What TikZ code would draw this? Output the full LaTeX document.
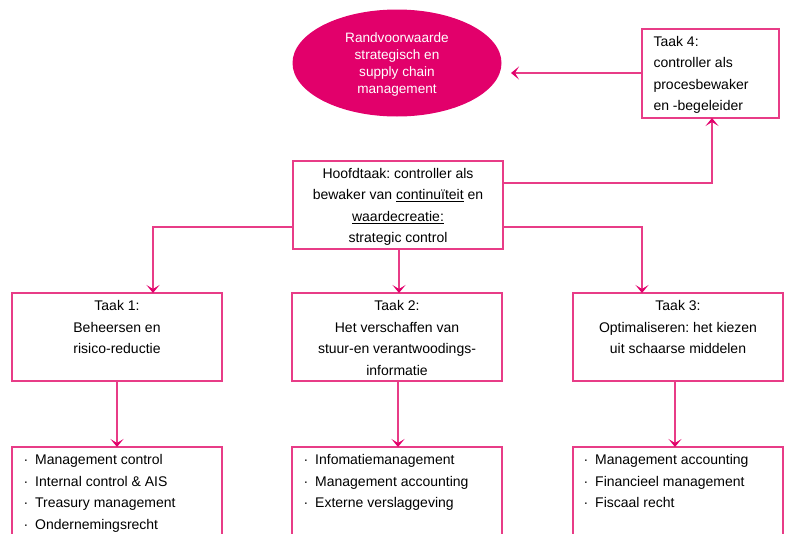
\documentclass[tikz,border=0pt]{standalone}
\usepackage{fontspec}
\setmainfont{Liberation Sans}
\usetikzlibrary{arrows.meta,shapes.geometric}
\definecolor{mag}{RGB}{226,0,107}
\definecolor{lin}{RGB}{232,60,135}
\frenchspacing
\begin{document}
\begin{tikzpicture}[x=1pt,y=-1pt,
  txt/.style={font=\fontsize{14}{21.5}\selectfont},
  box/.style={draw=lin,line width=1.2pt,fill=white},
  conn/.style={draw=lin,line width=1.2pt},
  arr/.style={conn,-{Stealth[length=8pt,width=13pt,inset=4pt,color=mag]}},
  ]
\useasboundingbox (0,0) rectangle (789,533);
% ellipse
\node[ellipse,fill=mag,minimum width=209pt,minimum height=107pt,inner sep=0pt] (ell) at (397,63) {};
\node[text=white,align=center,font=\fontsize{13.6}{17}\selectfont] (elltxt) at (397,64) {Randvoorwaarde\\strategisch en\\supply chain\\management};
% Taak 4
\draw[box] (642,29) rectangle (779,118);
\coordinate (t4l) at (642,73);
\coordinate (t4b) at (712,118);
\coordinate (ellr) at (511,73);
\node[txt,anchor=west,align=left] (t4) at (650,75) {Taak 4:\\controller als\\procesbewaker\\en -begeleider};
% Hoofdtaak
\draw[box] (293,161) rectangle (503,249);
\node[txt,align=center] (hoofd) at (398,207) {Hoofdtaak: controller als\\bewaker van \underline{continuïteit} en\\\underline{waardecreatie:}\\strategic control};
\coordinate (hr1) at (503,183);
\coordinate (hl) at (293,227);
\coordinate (hr) at (503,227);
\coordinate (hb) at (399,249);
\coordinate (c4) at (712,183);
\coordinate (cl) at (153,227);
\coordinate (cr) at (642,227);
% Taak boxes
\draw[box] (12,293) rectangle (222,381);
\draw[box] (292,293) rectangle (502,381);
\draw[box] (573,293) rectangle (783,381);
\coordinate (t1t) at (153,293);
\coordinate (t2t) at (399,293);
\coordinate (t3t) at (642,293);
\coordinate (t1b) at (117,381);
\coordinate (t2b) at (398,381);
\coordinate (t3b) at (675,381);
\node[txt,align=center,anchor=north] (t1) at (117,297) {Taak 1:\\Beheersen en\\risico-reductie};
\node[txt,align=center,anchor=north] (t2) at (397,297) {Taak 2:\\Het verschaffen van\\stuur-en verantwoodings-\\informatie};
\node[txt,align=center,anchor=north] (t3) at (678,297) {Taak 3:\\Optimaliseren: het kiezen\\uit schaarse middelen};
% bottom boxes (open at bottom)
\draw[conn] (12,540) -- (12,447) -- (222,447) -- (222,540);
\draw[conn] (292,540) -- (292,447) -- (502,447) -- (502,540);
\draw[conn] (573,540) -- (573,447) -- (783,447) -- (783,540);
\coordinate (b1t) at (117,447);
\coordinate (b2t) at (398,447);
\coordinate (b3t) at (675,447);
\node[txt,anchor=north west,align=left] (l1) at (20,451) {·\enspace Management control\\·\enspace Internal control \& AIS\\·\enspace Treasury management\\·\enspace Ondernemingsrecht};
\node[txt,anchor=north west,align=left] (l2) at (300,451) {·\enspace Infomatiemanagement\\·\enspace Management accounting\\·\enspace Externe verslaggeving};
\node[txt,anchor=north west,align=left] (l3) at (580,451) {·\enspace Management accounting\\·\enspace Financieel management\\·\enspace Fiscaal recht};
% connectors
\draw[arr] (t4l) -- (ellr);
\draw[arr] (hr1) -- (c4) -- (t4b);
\draw[arr] (hl) -- (cl) -- (t1t);
\draw[arr] (hr) -- (cr) -- (t3t);
\draw[arr] (hb) -- (t2t);
\draw[arr] (t1b) -- (b1t);
\draw[arr] (t2b) -- (b2t);
\draw[arr] (t3b) -- (b3t);
\end{tikzpicture}
\end{document}
